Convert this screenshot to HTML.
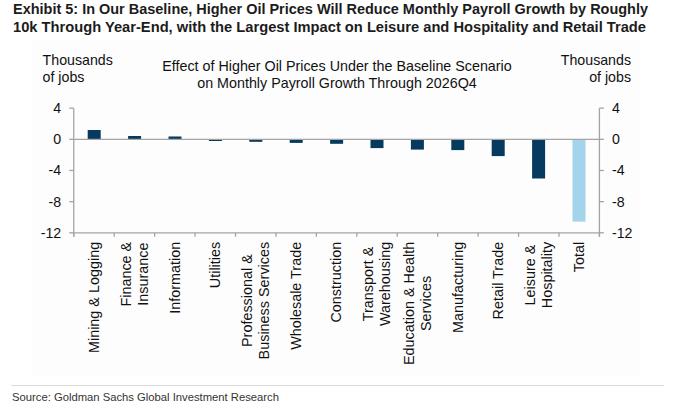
<!DOCTYPE html>
<html><head><meta charset="utf-8"><style>
html,body{margin:0;padding:0;background:#fff;width:678px;height:406px;overflow:hidden}
svg{position:absolute;left:0;top:0}
.t{font-family:"Liberation Sans",sans-serif;font-size:14.2px;fill:#111}
.ttl{font-family:"Liberation Sans",sans-serif;font-weight:bold;font-size:14px;fill:#1c1c1c}
.src{font-family:"Liberation Sans",sans-serif;font-size:11.2px;fill:#333}
</style></head><body>
<svg width="678" height="406" viewBox="0 0 678 406">
<rect x="32" y="41" width="608" height="334.5" fill="#fdfdfd"/>
<rect x="87.70" y="130.00" width="13.0" height="9.30" fill="#063a5f"/>
<rect x="128.10" y="136.00" width="13.0" height="3.30" fill="#063a5f"/>
<rect x="168.50" y="136.50" width="13.0" height="2.80" fill="#063a5f"/>
<rect x="208.90" y="139.30" width="13.0" height="1.70" fill="#063a5f"/>
<rect x="249.30" y="139.30" width="13.0" height="2.50" fill="#063a5f"/>
<rect x="289.70" y="139.30" width="13.0" height="3.60" fill="#063a5f"/>
<rect x="330.10" y="139.30" width="13.0" height="4.50" fill="#063a5f"/>
<rect x="370.50" y="139.30" width="13.0" height="8.80" fill="#063a5f"/>
<rect x="410.90" y="139.30" width="13.0" height="10.30" fill="#063a5f"/>
<rect x="451.30" y="139.30" width="13.0" height="10.80" fill="#063a5f"/>
<rect x="491.70" y="139.30" width="13.0" height="16.80" fill="#063a5f"/>
<rect x="532.10" y="139.30" width="13.0" height="39.20" fill="#063a5f"/>
<rect x="572.50" y="139.30" width="13.0" height="82.30" fill="#a3d4ec"/>
<line x1="73.76" y1="108.14" x2="73.76" y2="236.78" stroke="#a4a4a4" stroke-width="1.3"/>
<line x1="599.42" y1="108.14" x2="599.42" y2="236.78" stroke="#a4a4a4" stroke-width="1.3"/>
<line x1="73.76" y1="139.3" x2="599.42" y2="139.3" stroke="#a4a4a4" stroke-width="1.3"/>
<line x1="73.76" y1="232.78" x2="599.42" y2="232.78" stroke="#a4a4a4" stroke-width="1.3"/>
<line x1="69.26" y1="108.14" x2="73.76" y2="108.14" stroke="#a4a4a4" stroke-width="1.3"/>
<line x1="599.42" y1="108.14" x2="603.92" y2="108.14" stroke="#a4a4a4" stroke-width="1.3"/>
<text x="61.2" y="113.14" text-anchor="end" class="t">4</text>
<text x="612" y="113.14" class="t">4</text>
<line x1="69.26" y1="139.30" x2="73.76" y2="139.30" stroke="#a4a4a4" stroke-width="1.3"/>
<line x1="599.42" y1="139.30" x2="603.92" y2="139.30" stroke="#a4a4a4" stroke-width="1.3"/>
<text x="61.2" y="144.30" text-anchor="end" class="t">0</text>
<text x="612" y="144.30" class="t">0</text>
<line x1="69.26" y1="170.46" x2="73.76" y2="170.46" stroke="#a4a4a4" stroke-width="1.3"/>
<line x1="599.42" y1="170.46" x2="603.92" y2="170.46" stroke="#a4a4a4" stroke-width="1.3"/>
<text x="61.2" y="175.46" text-anchor="end" class="t">-4</text>
<text x="612" y="175.46" class="t">-4</text>
<line x1="69.26" y1="201.62" x2="73.76" y2="201.62" stroke="#a4a4a4" stroke-width="1.3"/>
<line x1="599.42" y1="201.62" x2="603.92" y2="201.62" stroke="#a4a4a4" stroke-width="1.3"/>
<text x="61.2" y="206.62" text-anchor="end" class="t">-8</text>
<text x="612" y="206.62" class="t">-8</text>
<line x1="69.26" y1="232.78" x2="73.76" y2="232.78" stroke="#a4a4a4" stroke-width="1.3"/>
<line x1="599.42" y1="232.78" x2="603.92" y2="232.78" stroke="#a4a4a4" stroke-width="1.3"/>
<text x="61.2" y="237.78" text-anchor="end" class="t">-12</text>
<text x="612" y="237.78" class="t">-12</text>
<line x1="73.76" y1="232.78" x2="73.76" y2="236.78" stroke="#a4a4a4" stroke-width="1.3"/>
<line x1="114.20" y1="232.78" x2="114.20" y2="236.78" stroke="#a4a4a4" stroke-width="1.3"/>
<line x1="154.63" y1="232.78" x2="154.63" y2="236.78" stroke="#a4a4a4" stroke-width="1.3"/>
<line x1="195.07" y1="232.78" x2="195.07" y2="236.78" stroke="#a4a4a4" stroke-width="1.3"/>
<line x1="235.50" y1="232.78" x2="235.50" y2="236.78" stroke="#a4a4a4" stroke-width="1.3"/>
<line x1="275.94" y1="232.78" x2="275.94" y2="236.78" stroke="#a4a4a4" stroke-width="1.3"/>
<line x1="316.37" y1="232.78" x2="316.37" y2="236.78" stroke="#a4a4a4" stroke-width="1.3"/>
<line x1="356.81" y1="232.78" x2="356.81" y2="236.78" stroke="#a4a4a4" stroke-width="1.3"/>
<line x1="397.24" y1="232.78" x2="397.24" y2="236.78" stroke="#a4a4a4" stroke-width="1.3"/>
<line x1="437.68" y1="232.78" x2="437.68" y2="236.78" stroke="#a4a4a4" stroke-width="1.3"/>
<line x1="478.11" y1="232.78" x2="478.11" y2="236.78" stroke="#a4a4a4" stroke-width="1.3"/>
<line x1="518.55" y1="232.78" x2="518.55" y2="236.78" stroke="#a4a4a4" stroke-width="1.3"/>
<line x1="558.98" y1="232.78" x2="558.98" y2="236.78" stroke="#a4a4a4" stroke-width="1.3"/>
<line x1="599.42" y1="232.78" x2="599.42" y2="236.78" stroke="#a4a4a4" stroke-width="1.3"/>
<text transform="translate(98.83,297.44) rotate(-90)" x="0" y="0" text-anchor="middle" class="t" style="font-size:14.4px">Mining &amp; Logging</text>
<text transform="translate(130.71,274.22) rotate(-90)" x="0" y="0" text-anchor="middle" class="t" style="font-size:14.4px">Finance &amp;</text>
<text transform="translate(147.81,274.22) rotate(-90)" x="0" y="0" text-anchor="middle" class="t" style="font-size:14.4px">Insurance</text>
<text transform="translate(179.70,277.82) rotate(-90)" x="0" y="0" text-anchor="middle" class="t" style="font-size:14.4px">Information</text>
<text transform="translate(220.13,265.00) rotate(-90)" x="0" y="0" text-anchor="middle" class="t" style="font-size:14.4px">Utilities</text>
<text transform="translate(252.02,300.62) rotate(-90)" x="0" y="0" text-anchor="middle" class="t" style="font-size:14.4px">Professional &amp;</text>
<text transform="translate(269.12,300.62) rotate(-90)" x="0" y="0" text-anchor="middle" class="t" style="font-size:14.4px">Business Services</text>
<text transform="translate(301.00,295.83) rotate(-90)" x="0" y="0" text-anchor="middle" class="t" style="font-size:14.4px">Wholesale Trade</text>
<text transform="translate(341.44,282.22) rotate(-90)" x="0" y="0" text-anchor="middle" class="t" style="font-size:14.4px">Construction</text>
<text transform="translate(373.33,283.96) rotate(-90)" x="0" y="0" text-anchor="middle" class="t" style="font-size:14.4px">Transport &amp;</text>
<text transform="translate(390.43,283.96) rotate(-90)" x="0" y="0" text-anchor="middle" class="t" style="font-size:14.4px">Warehousing</text>
<text transform="translate(413.76,303.44) rotate(-90)" x="0" y="0" text-anchor="middle" class="t" style="font-size:14.4px">Education &amp; Health</text>
<text transform="translate(430.86,303.44) rotate(-90)" x="0" y="0" text-anchor="middle" class="t" style="font-size:14.4px">Services</text>
<text transform="translate(462.75,287.43) rotate(-90)" x="0" y="0" text-anchor="middle" class="t" style="font-size:14.4px">Manufacturing</text>
<text transform="translate(503.18,280.62) rotate(-90)" x="0" y="0" text-anchor="middle" class="t" style="font-size:14.4px">Retail Trade</text>
<text transform="translate(535.07,275.01) rotate(-90)" x="0" y="0" text-anchor="middle" class="t" style="font-size:14.4px">Leisure &amp;</text>
<text transform="translate(552.17,275.01) rotate(-90)" x="0" y="0" text-anchor="middle" class="t" style="font-size:14.4px">Hospitality</text>
<text transform="translate(584.05,257.01) rotate(-90)" x="0" y="0" text-anchor="middle" class="t" style="font-size:14.4px">Total</text>
<text x="13" y="13.8" class="ttl" textLength="635" lengthAdjust="spacingAndGlyphs">Exhibit 5: In Our Baseline, Higher Oil Prices Will Reduce Monthly Payroll Growth by Roughly</text>
<text x="13" y="31.7" class="ttl" textLength="633" lengthAdjust="spacingAndGlyphs">10k Through Year-End, with the Largest Impact on Leisure and Hospitality and Retail Trade</text>
<text x="337" y="71.2" text-anchor="middle" class="t" style="font-size:14.3px">Effect of Higher Oil Prices Under the Baseline Scenario</text>
<text x="337" y="87.6" text-anchor="middle" class="t" style="font-size:14.3px">on Monthly Payroll Growth Through 2026Q4</text>
<text x="42.6" y="64.9" class="t">Thousands</text>
<text x="42.6" y="81.5" class="t">of jobs</text>
<text x="631" y="64.9" text-anchor="end" class="t">Thousands</text>
<text x="631" y="81.5" text-anchor="end" class="t">of jobs</text>
<line x1="11.5" y1="385.5" x2="664" y2="385.5" stroke="#d9d9d9" stroke-width="1.2"/>
<text x="12" y="401" class="src" textLength="267" lengthAdjust="spacingAndGlyphs">Source: Goldman Sachs Global Investment Research</text>
</svg>
</body></html>
